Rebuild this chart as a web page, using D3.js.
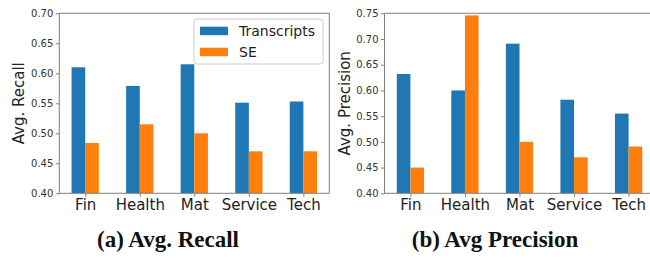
<!DOCTYPE html>
<html><head><meta charset="utf-8">
<script src="https://cdn.jsdelivr.net/npm/d3@7"></script>
<style>body{margin:0;background:#fff}svg{display:block}</style>
</head><body>
<svg id="c" width="650" height="258"></svg>
<script>
const categories = ["Fin", "Health", "Mat", "Service", "Tech"];
const seriesNames = ["Transcripts", "SE"];
const recallTranscripts = [0.610, 0.579, 0.615, 0.551, 0.553];
const recallSE = [0.484, 0.515, 0.500, 0.470, 0.470];
const precisionTranscripts = [0.632, 0.600, 0.691, 0.582, 0.555];
const precisionSE = [0.450, 0.746, 0.500, 0.470, 0.491];
const recallTicks = [0.40, 0.45, 0.50, 0.55, 0.60, 0.65, 0.70];
const precisionTicks = [0.40, 0.45, 0.50, 0.55, 0.60, 0.65, 0.70, 0.75];
const colors = ["#1f77b4", "#ff7f0e"];

const svg = d3.select("#c");
const plotTop = 13.3, plotBottom = 193.3;

function panel(x0, yDomain, ticks, tSeries, sSeries, ylabel, caption, capX, showLegend) {
  const x = d3.scaleLinear().domain([-0.35, 4.6]).range([x0, x0 + 270]);
  const y = d3.scaleLinear().domain(yDomain).range([plotBottom, plotTop]);
  const g = svg.append("g");
  const bw = x(0.25) - x(0);
  [tSeries, sSeries].forEach((vals, s) => {
    g.selectAll(null).data(vals).enter().append("rect")
      .attr("x", (d, i) => x(i - 0.125 + s * 0.25))
      .attr("width", bw)
      .attr("y", d => y(d))
      .attr("height", d => y(yDomain[0]) - y(d))
      .attr("fill", colors[s]);
  });
  g.append("rect").attr("x", x0).attr("y", plotTop).attr("width", 270).attr("height", plotBottom - plotTop)
    .attr("fill", "none").attr("stroke", "#7f7f7f").attr("stroke-width", 1);
  const ya = g.append("g").attr("transform", `translate(${x0},0)`)
    .call(d3.axisLeft(y).tickValues(ticks).tickFormat(d3.format(".2f")).tickSize(3.5).tickPadding(2.5));
  ya.select(".domain").remove();
  ya.selectAll("line").attr("stroke", "#7f7f7f");
  ya.selectAll("text").attr("font-family", "DejaVu Sans").attr("font-size", 10).attr("fill", "#333");
  const xa = g.append("g").attr("transform", `translate(0,${plotBottom})`)
    .call(d3.axisBottom(x).tickValues(categories.map((c, i) => i + 0.125))
      .tickFormat((d, i) => categories[i]).tickSize(3.5).tickPadding(3));
  xa.select(".domain").remove();
  xa.selectAll("line").attr("stroke", "#7f7f7f");
  xa.selectAll("text").attr("font-family", "DejaVu Sans").attr("font-size", 15).attr("fill", "#222");
  g.append("text").attr("transform", `translate(${x0 - 35},${(plotTop + plotBottom) / 2}) rotate(-90)`)
    .attr("text-anchor", "middle").attr("font-family", "DejaVu Sans").attr("font-size", 15)
    .attr("fill", "#222").text(ylabel);
  g.append("text").attr("x", capX).attr("y", 247).attr("text-anchor", "middle")
    .attr("font-family", "Liberation Serif").attr("font-weight", "bold").attr("font-size", 23)
    .attr("fill", "#111").text(caption);
  if (showLegend) {
    const lg = g.append("g");
    lg.append("rect").attr("x", 194).attr("y", 19).attr("width", 129).attr("height", 45)
      .attr("rx", 3).attr("fill", "rgba(255,255,255,0.85)").attr("stroke", "#cccccc");
    seriesNames.forEach((n, i) => {
      lg.append("rect").attr("x", 200).attr("y", 26.7 + i * 21).attr("width", 28).attr("height", 8.5)
        .attr("fill", colors[i]);
      lg.append("text").attr("x", 239).attr("y", 36 + i * 21).attr("font-family", "DejaVu Sans")
        .attr("font-size", 14).attr("fill", "#222").text(n);
    });
  }
}

panel(59.3, [0.40, 0.70], recallTicks, recallTranscripts, recallSE, "Avg. Recall", "(a) Avg. Recall", 168, true);
panel(384.5, [0.40, 0.75], precisionTicks, precisionTranscripts, precisionSE, "Avg. Precision", "(b) Avg Precision", 495, false);
</script>
</body></html>
